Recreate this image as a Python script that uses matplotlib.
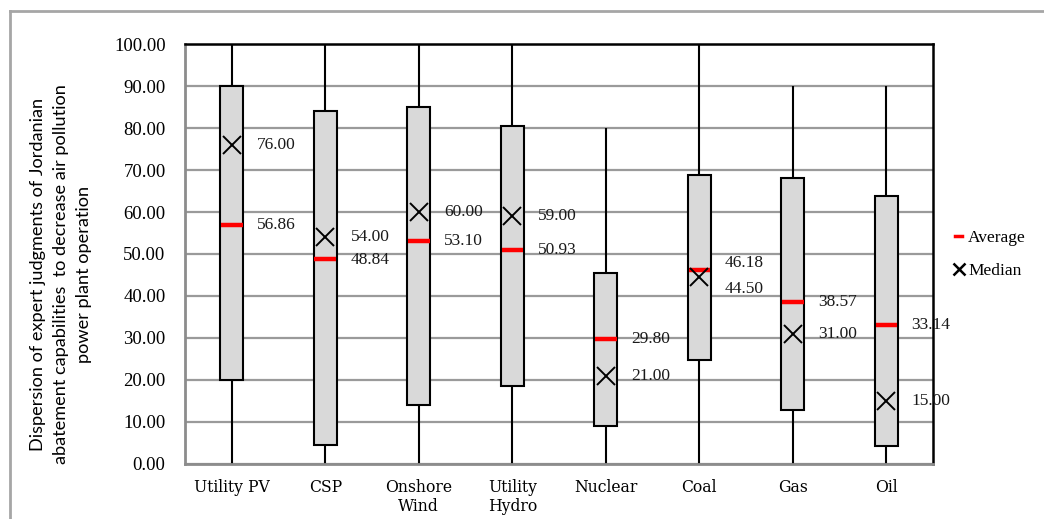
import matplotlib
matplotlib.use("Agg")
import matplotlib.pyplot as plt
from matplotlib.lines import Line2D
from matplotlib import font_manager
import numpy as np

categories = ["Utility PV", "CSP", "Onshore\nWind", "Utility\nHydro", "Nuclear", "Coal", "Gas", "Oil"]
whisker_min = [0, 0, 0, 0, 0, 0, 0, 0]
whisker_max = [100, 100, 100, 100, 80, 100, 90, 90]
box_low = [20.0, 4.5, 14.0, 18.6, 9.0, 24.8, 12.9, 4.3]
box_high = [90.0, 84.0, 85.0, 80.5, 45.5, 68.7, 68.0, 63.8]
medians = [76.00, 54.00, 60.00, 59.00, 21.00, 44.50, 31.00, 15.00]
averages = [56.86, 48.84, 53.10, 50.93, 29.80, 46.18, 38.57, 33.14]
yticks = [0, 10, 20, 30, 40, 50, 60, 70, 80, 90, 100]

# label nudges (in data units) to avoid overlaps, as in the reference
avg_label_nudge = [0, -0.2, 0, 0, 0, 1.7, 0, 0]
med_label_nudge = [0, 0, 0, 0, 0, -2.8, 0, 0]

# look for a regular condensed serif face for the category labels
cond = None
for f in font_manager.fontManager.ttflist:
    fn = f.fname.lower()
    if ("serif" in fn and "condensed" in fn and "bold" not in fn and "italic" not in fn
            and "oblique" not in fn):
        cond = f.fname
        break
if cond is not None:
    xfont = font_manager.FontProperties(fname=cond, size=12.5)
else:
    xfont = font_manager.FontProperties(family="Liberation Serif", size=11)

fig = plt.figure(figsize=(10.44, 5.19), dpi=100)
ax = fig.add_axes([0.1772, 0.106, 0.8937 - 0.1772, 0.9152 - 0.106])

n = len(categories)
x = np.arange(n) + 0.5
box_w = 0.25

ax.set_xlim(0, n)
ax.set_ylim(0, 100)

for yv in yticks:
    ax.axhline(yv, color="#9a9a9a", lw=1.6, zorder=1)

for i in range(n):
    ax.plot([x[i], x[i]], [whisker_min[i], whisker_max[i]], color="black", lw=1.5, zorder=2, solid_capstyle="butt")
    ax.bar(x[i], box_high[i] - box_low[i], bottom=box_low[i], width=box_w,
           color="#d9d9d9", edgecolor="black", linewidth=1.5, zorder=3)
    ax.plot([x[i] - box_w / 2 + 0.01, x[i] + box_w / 2 - 0.01], [averages[i], averages[i]],
            color="#ff0000", lw=3.2, zorder=4, solid_capstyle="butt")
    ax.plot(x[i], medians[i], marker="x", color="black", markersize=13.5, mew=1.4, zorder=5, linestyle="none")
    ax.text(x[i] + 0.27, medians[i] + med_label_nudge[i], f"{medians[i]:.2f}", fontsize=12.5,
            family="Liberation Serif", va="center", ha="left", color="#1a1a1a", zorder=6)
    ax.text(x[i] + 0.27, averages[i] + avg_label_nudge[i], f"{averages[i]:.2f}", fontsize=12.5,
            family="Liberation Serif", va="center", ha="left", color="#1a1a1a", zorder=6)

ax.set_yticks(yticks)
ax.set_yticklabels([f"{v:.2f}" for v in yticks], family="Liberation Serif", fontsize=13.5)
ax.set_xticks(x)
ax.set_xticklabels(categories, fontproperties=xfont, linespacing=1.15)
ax.tick_params(axis="both", length=0)
ax.tick_params(axis="y", pad=14)
ax.tick_params(axis="x", pad=11)

for s in ["top", "right"]:
    ax.spines[s].set_color("black")
    ax.spines[s].set_linewidth(1.8)
for s in ["left", "bottom"]:
    ax.spines[s].set_color("#8c8c8c")
    ax.spines[s].set_linewidth(2)

ax.set_ylabel("Dispersion of expert judgments of Jordanian\nabatement capabilities  to decrease air pollution\npower plant operation",
              family="Lato", fontsize=13.1, linespacing=1.56)
ax.yaxis.set_label_coords(-0.124, 0.452)

handles = [Line2D([], [], color="#ff0000", lw=2.5),
           Line2D([], [], color="black", marker="x", linestyle="none", markersize=8, mew=1.8)]
fig.legend(handles, ["Average", "Median"], loc="center left", bbox_to_anchor=(0.9, 0.51),
           frameon=False, prop={"family": "Liberation Serif", "size": 12.5}, handlelength=0.4,
           handletextpad=0.35, labelspacing=1.0)

# outer frame lines
fig.add_artist(Line2D([10 / 1044, 10 / 1044], [0, 1 - 11 / 519], transform=fig.transFigure, color="#a6a6a6", lw=2))
fig.add_artist(Line2D([10 / 1044, 1], [1 - 11 / 519, 1 - 11 / 519], transform=fig.transFigure, color="#a6a6a6", lw=2))

fig.savefig("out.png", dpi=100)
